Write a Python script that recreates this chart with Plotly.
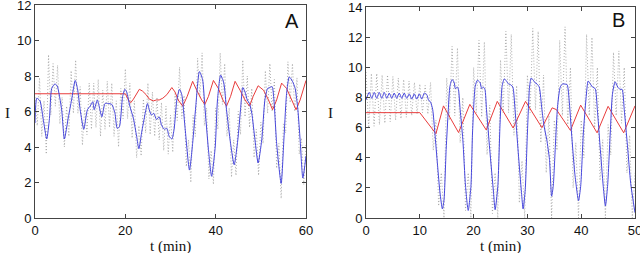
import plotly.graph_objects as go

# ---------------- Panel A data ----------------
a_blue_t = [0, 0.4, 1.1, 1.8, 2.6, 3.2, 3.7, 4.4, 4.9, 5.9, 6.5, 7.4, 8.1, 8.9, 9.4, 10.0, 10.8,
            11.6, 12.2, 12.8, 13.1, 13.8, 14.2, 14.8, 15.5, 16.2, 17.0, 17.7, 18.2, 18.7, 19.4, 19.9,
            20.3, 21.0, 21.8, 22.5, 23.0, 23.6, 24.4, 24.9, 25.3, 25.8, 26.3, 26.9, 27.5, 28.0, 28.6,
            29.2, 29.7, 30.3, 30.8, 31.4, 32.0, 32.5, 33.2, 34.2, 34.9, 35.6, 36.4, 37.1, 37.6, 38.4,
            39.1, 39.9, 40.4, 41.1, 41.8, 42.4, 43.3, 44.1, 44.9, 45.5, 46.0, 46.5, 47.0, 47.5, 48.0,
            48.7, 49.4, 50.2, 50.9, 51.5, 52.0, 52.5, 52.9, 53.5, 54.5, 55.1, 55.7, 56.3, 57.0, 57.6,
            58.2, 58.7, 59.3, 60.0]
a_blue_I = [5.35, 6.75, 6.6, 5.6, 4.45, 5.6, 7.3, 7.55, 7.45, 6.1, 4.45, 5.7, 6.65, 7.75, 7.3, 6.1, 5.0,
            6.1, 6.3, 6.55, 6.1, 6.65, 6.3, 5.7, 6.45, 6.45, 6.4, 5.9, 5.05, 5.15, 6.85, 7.25,
            7.1, 6.3, 5.6, 4.6, 3.9, 4.8, 5.9, 6.45, 6.1, 5.8, 5.9, 5.55, 5.7, 5.25, 5.0,
            5.05, 4.6, 4.45, 5.0, 6.65, 7.25, 6.95, 5.15, 2.7, 4.2, 6.3, 8.25, 7.8, 6.3, 3.85,
            2.35, 4.0, 6.65, 8.05, 7.6, 6.1, 4.2, 3.0, 4.4, 6.1, 7.35, 7.1, 6.65, 6.45, 5.9,
            4.4, 3.1, 4.4, 6.65, 7.3, 7.35, 7.4, 6.65, 4.2, 1.95, 4.4, 7.0, 7.95, 7.7, 7.3,
            6.1, 4.4, 2.25, 3.5]

a_red_t = [0, 20.0, 20.7, 21.2, 21.8, 22.5, 23.1, 23.8, 24.6, 25.3, 26.2, 26.9, 27.5, 28.3, 29.2, 30.3,
           31.0, 31.7, 32.7, 33.7, 34.9, 35.8, 36.9, 37.6, 38.4, 39.5, 40.6, 41.6, 42.4, 43.3, 44.3,
           45.4, 46.5, 47.5, 48.3, 49.4, 50.6, 51.7, 52.6, 53.5, 54.6, 55.7, 56.8, 57.8, 58.7, 60.0]
a_red_I = [7.0, 7.0, 6.65, 6.5, 6.7, 7.0, 7.25, 7.15, 6.95, 6.7, 6.6, 6.65, 6.65, 6.75, 6.95, 7.35,
           7.1, 6.65, 6.3, 6.85, 7.7, 7.2, 6.65, 6.4, 6.85, 7.75, 7.3, 6.65, 6.3, 6.85, 7.7,
           7.2, 6.65, 6.3, 6.85, 7.45, 7.2, 6.65, 6.1, 6.65, 7.6, 7.3, 6.65, 6.1, 6.65, 7.75]

a_gray_t = [i * 0.5 for i in range(121)]
a_gray_I = [6.8, 5.2, 7.9, 4.6, 6.6, 3.6, 9.2, 5.8, 8.7, 6.3, 8.6, 5.3, 6.8, 4.0, 6.3, 4.6,
            8.3, 5.9, 8.9, 5.9, 7.4, 4.1, 6.2, 4.7, 7.6, 5.0, 7.6, 5.1, 7.8, 4.6, 7.2, 5.0,
            7.7, 5.1, 7.6, 4.6, 6.6, 4.0, 7.3, 5.6, 8.4, 5.6, 7.6, 4.5, 6.6, 3.4, 5.2, 3.5,
            6.7, 4.8, 7.6, 4.7, 7.1, 4.6, 6.8, 4.4, 6.5, 3.8, 6.3, 3.6, 5.8, 3.7, 7.0, 5.5,
            8.5, 5.6, 6.9, 2.9, 4.4, 2.0, 5.8, 4.6, 9.0, 6.8, 9.3, 5.2, 6.2, 2.2, 3.8, 1.9,
            6.2, 5.0, 9.3, 6.4, 8.7, 4.6, 6.2, 2.3, 4.4, 2.4, 6.0, 4.7, 8.9, 5.7, 8.0, 5.1,
            7.3, 3.4, 5.0, 2.4, 5.4, 4.2, 8.3, 5.9, 8.7, 6.0, 7.8, 2.8, 4.2, 1.1, 5.3, 4.8,
            8.8, 6.5, 8.7, 6.0, 7.9, 3.6, 4.5, 1.9, 4.2]

# ---------------- Panel B data ----------------
b_blue_t = [0, 0.6, 1.07, 1.53, 2.0, 2.46, 2.93, 3.39, 3.86, 4.32, 4.79, 5.25, 5.72, 6.18, 6.65, 7.11,
            7.58, 8.04, 8.51, 8.97, 9.44, 9.9, 10.37, 10.83, 11.3, 11.6, 12.0, 12.4, 12.8, 13.3, 13.75,
            14.2, 14.5, 14.9, 15.3, 15.6, 16.0, 16.4, 16.6, 17.0, 17.2, 17.5, 18.0, 18.5, 19.0, 19.5,
            19.8, 20.3, 20.7, 21.2, 21.5, 21.8, 22.1, 22.4, 23.0, 23.7, 24.0, 24.5, 24.9, 25.3, 25.7,
            26.1, 26.5, 26.9, 27.3, 27.7, 28.3, 28.9, 29.2, 29.6, 30.0, 30.4, 30.7, 31.1, 31.4, 31.8,
            32.2, 32.7, 33.1, 33.6, 34.1, 34.5, 34.8, 35.2, 35.6, 36.1, 36.5, 37.0, 37.4, 37.8, 38.2,
            38.8, 39.5, 39.9, 40.4, 40.9, 41.3, 41.8, 42.1, 42.6, 43.0, 43.5, 44.1, 44.5, 44.9, 45.4,
            45.8, 46.3, 46.8, 47.2, 47.6, 48.0, 48.6, 49.2, 50.0]
b_blue_I = [7.85, 8.35, 7.95, 8.35, 7.95, 8.35, 7.95, 8.35, 7.95, 8.3, 7.95, 8.3, 7.95, 8.3, 7.95, 8.3,
            7.95, 8.25, 7.9, 8.25, 7.9, 8.25, 7.9, 8.3, 8.2, 7.85, 7.7, 7.2, 5.65, 3.5, 1.7,
            0.6, 1.2, 4.55, 7.2, 8.75, 9.2, 9.0, 8.6, 8.7, 8.5, 7.2, 5.2, 2.1, 0.5, 2.1,
            5.65, 8.75, 9.15, 9.0, 8.6, 8.7, 8.55, 7.2, 4.55, 1.7, 0.55, 2.1, 6.1, 8.75, 9.25,
            9.1, 8.9, 8.85, 8.7, 7.2, 4.35, 1.7, 0.6, 1.9, 5.65, 8.7, 9.3, 9.15, 9.0, 8.9,
            8.7, 7.2, 6.1, 5.2, 3.9, 1.45, 2.1, 4.8, 7.4, 8.7, 8.9, 8.9, 8.85, 7.65, 5.65,
            3.0, 1.15, 2.1, 5.65, 7.95, 9.1, 8.85, 8.7, 8.6, 7.2, 4.8, 2.1, 0.8, 2.1, 5.65,
            8.2, 9.05, 8.7, 8.55, 8.55, 7.2, 4.8, 2.3, 0.35]

b_red_t = [0, 10.0, 13.0, 14.4, 17.2, 19.3, 22.35, 24.4, 27.35, 29.65, 32.7, 34.6, 35.4, 38.0,
           39.9, 42.95, 45.0, 47.9, 50.0]
b_red_I = [7.0, 7.0, 5.6, 7.45, 5.68, 7.55, 5.85, 7.75, 5.98, 7.75, 6.0, 7.32, 7.2, 5.82,
           7.5, 5.66, 7.42, 5.66, 7.45]

b_gray_t = [i * 0.5 for i in range(101)]
b_gray_I = [9.7, 6.0, 9.6, 6.1, 9.6, 6.2, 9.5, 6.3, 9.5, 6.4, 9.4, 6.5, 9.3, 6.6, 9.2, 6.7,
            9.1, 6.8, 9.0, 6.9, 8.9, 7.0, 8.8, 6.9, 9.0, 4.5, 6.5, 0.8, 3.0, 0.0, 9.3, 6.5,
            11.4, 6.8, 11.3, 5.0, 8.0, 0.5, 3.0, 0.0, 10.0, 7.0, 11.8, 6.7, 11.7, 4.2, 7.5, 0.3,
            3.0, 0.0, 10.5, 7.0, 12.4, 7.0, 12.2, 5.5, 8.8, 1.0, 3.8, 0.0, 9.5, 7.0, 12.6, 7.2,
            12.4, 5.0, 9.5, 3.0, 6.8, 0.0, 6.5, 4.5, 11.8, 6.8, 12.7, 6.2, 10.0, 2.0, 5.0, 0.0,
            6.5, 4.0, 12.2, 6.8, 12.0, 6.0, 10.0, 2.5, 5.2, 0.0, 6.2, 4.2, 11.0, 6.8, 11.1, 6.3,
            10.0, 3.0, 5.5, 0.0, 3.0]

a_xticks = [0, 20, 40, 60]
a_yticks = [0, 2, 4, 6, 8, 10, 12]
b_xticks = [0, 10, 20, 30, 40, 50]
b_yticks = [0, 2, 4, 6, 8, 10, 12, 14]

GRAY = "#9a9a9a"
BLUE = "#4646dc"
RED = "#e83c3c"

fig = go.Figure()

def add_panel(gt, gI, bt, bI, rt, rI, xa, ya):
    fig.add_trace(go.Scatter(x=gt, y=gI, mode="lines", xaxis=xa, yaxis=ya,
                             line=dict(color=GRAY, width=0.8, dash="1px,2px"), showlegend=False))
    fig.add_trace(go.Scatter(x=rt, y=rI, mode="lines", xaxis=xa, yaxis=ya,
                             line=dict(color=RED, width=1), showlegend=False))
    fig.add_trace(go.Scatter(x=bt, y=bI, mode="lines", xaxis=xa, yaxis=ya,
                             line=dict(color=BLUE, width=1, shape="spline", smoothing=0.6),
                             showlegend=False))

add_panel(a_gray_t, a_gray_I, a_blue_t, a_blue_I, a_red_t, a_red_I, "x", "y")
add_panel(b_gray_t, b_gray_I, b_blue_t, b_blue_I, b_red_t, b_red_I, "x2", "y2")

W, H = 640, 253
tickfont = dict(family="Liberation Sans, Arial, sans-serif", size=13, color="#111")
titlefont = dict(family="Liberation Serif, Times New Roman, serif", size=15, color="#111")
labelfont = dict(family="Liberation Sans, Arial, sans-serif", size=20, color="#111")

axis_common = dict(showgrid=False, zeroline=False, showline=True, linecolor="#444",
                   linewidth=1, mirror="ticks", ticks="inside", ticklen=4, tickcolor="#444",
                   tickfont=tickfont, ticklabeloverflow="allow", automargin=False)

def label(text, px, py, font):
    return dict(text=text, x=px / W, y=1 - py / H, xref="paper", yref="paper",
                xanchor="center", yanchor="middle", showarrow=False, font=font)

fig.update_layout(
    width=W, height=H, margin=dict(l=0, r=0, t=0, b=0, pad=0, autoexpand=False),
    paper_bgcolor="white", plot_bgcolor="white",
    xaxis=dict(domain=[35 / W, 306 / W], range=[0, 60], tickvals=a_xticks, anchor="y",
               **axis_common),
    yaxis=dict(domain=[1 - 218 / H, 1 - 5 / H], range=[0, 12], tickvals=a_yticks, anchor="x",
               **axis_common),
    xaxis2=dict(domain=[366 / W, 635 / W], range=[0, 50], tickvals=b_xticks, anchor="y2",
                **axis_common),
    yaxis2=dict(domain=[1 - 218 / H, 1 - 7.3 / H], range=[0, 14], tickvals=b_yticks, anchor="x2",
                **axis_common),
    annotations=[
        label("A", 292, 21.5, labelfont),
        label("B", 618, 20, labelfont),
        label("t (min)", 170, 246.5, titlefont),
        label("t (min)", 500, 246.5, titlefont),
        label("I", 7, 113, titlefont),
        label("I", 330, 113, titlefont),
    ],
)

fig.write_html("out.html", config={"displayModeBar": False},
               post_script="document.body.style.margin='0';document.body.style.overflow='hidden';")
